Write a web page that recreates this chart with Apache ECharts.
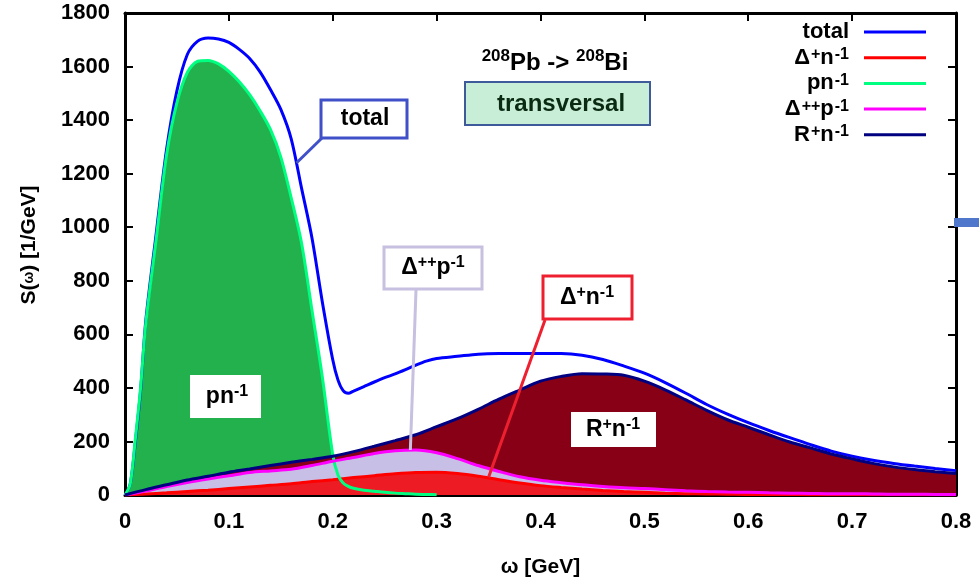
<!DOCTYPE html>
<html>
<head>
<meta charset="utf-8">
<script src="https://cdn.jsdelivr.net/npm/echarts@6/dist/echarts.min.js"></script>
<style>html,body{margin:0;padding:0;background:#fff}#c{width:979px;height:583px}</style>
</head>
<body>
<div id="c"></div>
<script>
// ---- data ----
const omegaA = [0,0.005,0.01,0.015,0.02,0.03,0.04,0.05,0.06,0.07,0.08,0.09,0.10,0.11,0.12,0.13,0.14,0.15,0.16,0.17,0.18,0.19,0.20,0.205,0.21,0.215,0.22,0.23,0.24,0.25,0.26,0.27,0.28,0.29,0.30,0.32,0.34,0.36,0.38,0.40,0.42,0.44,0.46,0.48,0.50,0.52,0.54,0.56,0.58,0.60,0.62,0.64,0.66,0.68,0.70,0.72,0.74,0.76,0.78,0.80];
const totalS = [0,40,200,390,650,975,1290,1510,1645,1695,1707,1703,1690,1664,1630,1580,1514,1440,1330,1145,960,720,505,430,390,380,388,405,422,438,452,468,485,500,510,518,526,528,528,528,528,522,506,482,455,420,380,338,302,270,241,214,188,164,145,130,118,108,99,91];
const pnS = [0,40,210,400,640,955,1270,1465,1578,1620,1623,1610,1582,1543,1495,1435,1365,1262,1110,940,690,440,150,75,45,32,25,18,14,10,7,5,3,2,1];
const omegaB = [0,0.02,0.04,0.06,0.08,0.10,0.12,0.14,0.16,0.18,0.20,0.22,0.24,0.26,0.28,0.30,0.32,0.34,0.36,0.38,0.40,0.42,0.44,0.46,0.48,0.50,0.52,0.54,0.56,0.58,0.60,0.62,0.64,0.66,0.68,0.70,0.72,0.74,0.76,0.78,0.80];
const rnS  = [0,20,38,56,70,85,97,110,122,133,145,162,182,203,225,255,285,320,358,392,425,443,453,452,447,425,393,355,316,281,253,225,198,176,153,135,118,105,95,87,80];
const dppS = [0,15,32,47,60,72,84,90,96,110,126,140,155,165,168,158,136,110,88,68,55,46,38,32,27,24,20,16,13,11,10,8,7,6,5,5,4,3,3,2,2];
const dpnS = [0,4,8,13,18,24,30,36,42,50,57,65,72,79,84,85,80,70,57,45,35,28,22,17,13,10,7,5,4,3,2,2,2,1,1,1,1,1,1,1,1];
const xTicks = {min:0, max:0.8, interval:0.1};
const yTicks = {min:0, max:1800, interval:200};

const zip = (xs, ys) => ys.map((y, i) => [xs[i], y]);

const FONT = 'Liberation Sans, Arial, sans-serif';
const chart = echarts.init(document.getElementById('c'), null, {renderer:'canvas'});

const sup = {fontSize:16, fontWeight:'bold', fontFamily:FONT, color:'#000', verticalAlign:'top', lineHeight:22, padding:[0,0,0,1]};
const base = {fontSize:22, fontWeight:'bold', fontFamily:FONT, color:'#000', lineHeight:22};
const legendLabels = {
  total: '{b|total}',
  dpn: '{b|Δ}{s|+}{b|n}{s|-1}',
  pn: '{b|pn}{s|-1}',
  dpp: '{b|Δ}{s|++}{b|p}{s|-1}',
  rn: '{b|R}{s|+}{b|n}{s|-1}'
};

function areaSeries(name, data, color, z) {
  return {name, type:'line', data, showSymbol:false, symbol:'none', silent:true, smooth:0.3,
    lineStyle:{width:0}, areaStyle:{color, opacity:1}, z, animation:false};
}
function lineSeries(name, data, color, z) {
  return {name, type:'line', data, showSymbol:false, symbol:'none', smooth:0.3,
    lineStyle:{width:3, color}, itemStyle:{color}, z, animation:false};
}

const axisCommon = {
  axisLine:{show:true, onZero:false, lineStyle:{color:'#000', width:3}},
  axisTick:{show:true, inside:true, length:8, lineStyle:{color:'#000', width:2}},
  splitLine:{show:false}
};

chart.setOption({
  animation:false,
  grid:{left:125, right:23, top:13, bottom:86},
  xAxis:[
    Object.assign({type:'value', position:'bottom', min:xTicks.min, max:xTicks.max, interval:xTicks.interval,
      axisLabel:{fontSize:22, fontWeight:'bold', fontFamily:FONT, color:'#000', margin:16},
      name:'ω [GeV]', nameLocation:'middle', nameGap:62,
      nameTextStyle:{fontSize:21, fontWeight:'bold', fontFamily:FONT, color:'#000'}}, axisCommon),
    Object.assign({type:'value', position:'top', min:xTicks.min, max:xTicks.max, interval:xTicks.interval,
      axisLabel:{show:false}}, axisCommon)
  ],
  yAxis:[
    Object.assign({type:'value', position:'left', min:yTicks.min, max:yTicks.max, interval:yTicks.interval,
      axisLabel:{fontSize:22, fontWeight:'bold', fontFamily:FONT, color:'#000', margin:15,
        formatter: v => String(v)}}, axisCommon),
    Object.assign({type:'value', position:'right', min:yTicks.min, max:yTicks.max, interval:yTicks.interval,
      axisLabel:{show:false}}, axisCommon)
  ],
  legend:{
    data:['total','dpn','pn','dpp','rn'],
    orient:'vertical', right:48, top:16, align:'right',
    icon:'rect', itemWidth:62, itemHeight:3, itemGap:3.7,
    formatter: n => legendLabels[n],
    textStyle:{fontSize:22, fontWeight:'bold', fontFamily:FONT, color:'#000', padding:[0,10,0,0],
      rich:{b:base, s:sup}},
    selectedMode:false
  },
  series:[
    areaSeries('pnFill', zip(omegaA, pnS), '#22b14c', 1),
    areaSeries('rnFill', zip(omegaB, rnS), '#880015', 2),
    areaSeries('dppFill', zip(omegaB, dppS), '#c8bfe7', 3),
    areaSeries('dpnFill', zip(omegaB, dpnS), '#ed1c24', 4),
    lineSeries('total', zip(omegaA, totalS), '#0000ff', 10),
    lineSeries('dpn', zip(omegaB, dpnS), '#ff0000', 10),
    lineSeries('pn', zip(omegaA, pnS), '#00ff80', 10),
    lineSeries('dpp', zip(omegaB, dppS), '#ff00ff', 10),
    lineSeries('rn', zip(omegaB, rnS), '#000080', 11)
  ]
});

const px = (x, y) => chart.convertToPixel({xAxisIndex:0, yAxisIndex:0}, [x, y]);
const richAnn = {b:{fontSize:23, fontWeight:'bold', fontFamily:FONT, fill:'#000', lineHeight:26},
                 s:{fontSize:16, fontWeight:'bold', fontFamily:FONT, fill:'#000', verticalAlign:'top', lineHeight:26}};
function box(x, y, w, h, stroke, fill, lw) {
  return {type:'rect', shape:{x, y, width:w, height:h}, style:{fill, stroke, lineWidth:lw}, z:100};
}
function label(cx, cy, text, extra) {
  return {type:'text', x:cx, y:cy, z:101,
    style:Object.assign({text, align:'center', verticalAlign:'middle', rich:richAnn,
      font:'bold 23px ' + FONT, fill:'#000'}, extra || {})};
}
function conn(x1, y1, p, color) {
  return {type:'line', shape:{x1, y1, x2:p[0], y2:p[1]}, style:{stroke:color, lineWidth:3}, z:99};
}

const pTot = px(0.165, 1240);
const pDpp = px(0.2747, 168);
const pDpn = px(0.35, 66);

chart.setOption({graphic:[
  // title
  label(555, 63, '{s|208}{b|Pb -> }{s|208}{b|Bi}', {rich:{
    b:{fontSize:24, fontWeight:'bold', fontFamily:FONT, fill:'#000', lineHeight:30},
    s:{fontSize:17, fontWeight:'bold', fontFamily:FONT, fill:'#000', verticalAlign:'top', lineHeight:30}}}),
  box(465, 82, 185, 43, '#3f5a9a', '#c8eed8', 2),
  label(561, 104, 'transversal', {font:'bold 24px ' + FONT, fill:'#0a2a12', rich:null}),
  // total
  conn(322, 138, pTot, '#4050c8'),
  box(321, 100, 86, 38, '#4050c8', '#fff', 3),
  label(365, 119, '{b|total}'),
  // Δ++p-1
  conn(416, 290, pDpp, '#c8c0e0'),
  box(384, 247, 98, 42, '#c8c0e0', '#fff', 3),
  label(433, 268, '{b|Δ}{s|++}{b|p}{s|-1}'),
  // Δ+n-1
  conn(545, 320, pDpn, '#ee2030'),
  box(543, 276, 89, 43, '#ee2030', '#fff', 3),
  label(587, 298, '{b|Δ}{s|+}{b|n}{s|-1}'),
  // pn-1
  box(190, 375, 71, 43, null, '#fff', 0),
  label(227, 397, '{b|pn}{s|-1}'),
  // R+n-1
  box(571, 412, 85, 35, null, '#fff', 0),
  label(613, 430, '{b|R}{s|+}{b|n}{s|-1}'),
  // y axis name
  {type:'text', x:29, y:245, rotation:Math.PI/2, z:101,
   style:{text:'{b|S(}{w|ω}{b|) [1/GeV]}', align:'center', verticalAlign:'middle',
     rich:{b:{fontSize:21, fontWeight:'bold', fontFamily:FONT, fill:'#000'},
           w:{fontSize:14, fontWeight:'bold', fontFamily:FONT, fill:'#000'}}}},
  // slide artifact bar at right edge
  {type:'rect', shape:{x:954, y:218, width:25, height:9}, style:{fill:'#4f78cc'}, z:5}
]});
</script>
</body>
</html>
